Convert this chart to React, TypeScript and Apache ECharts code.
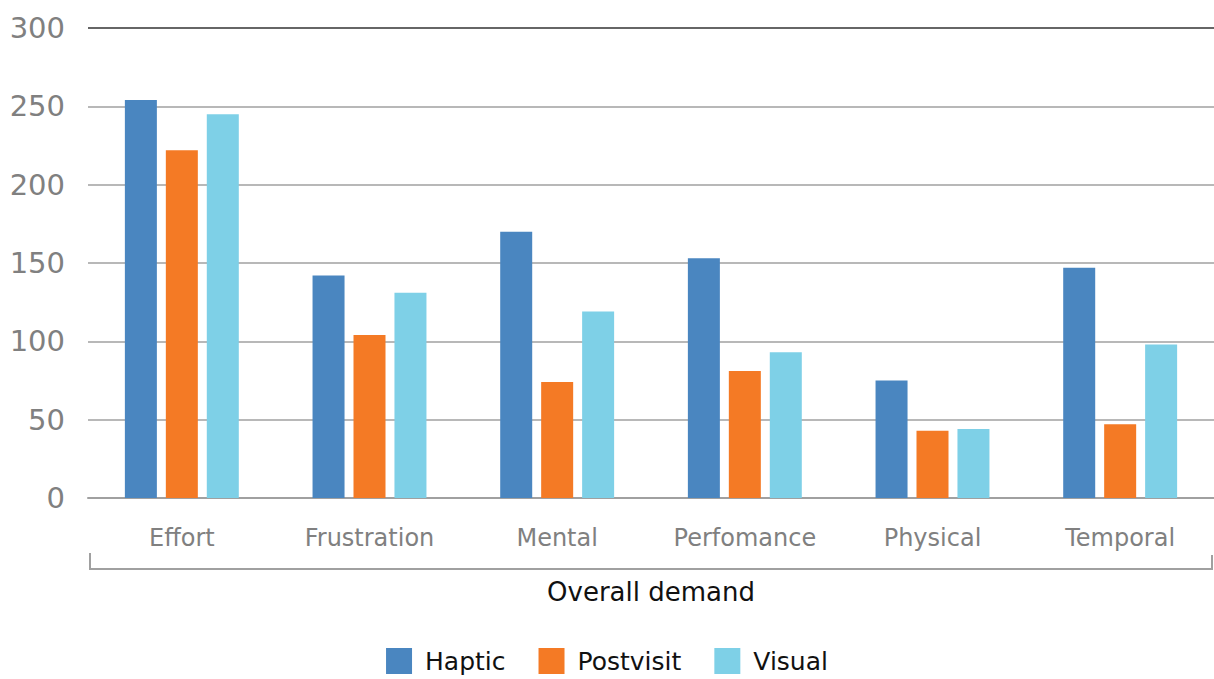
import React, { useEffect, useRef } from "react";
import * as echarts from "echarts";

const categories = ["Effort", "Frustration", "Mental", "Perfomance", "Physical", "Temporal"];
const haptic = [254, 142, 170, 153, 75, 147];
const postvisit = [222, 104, 74, 81, 43, 47];
const visual = [245, 131, 119, 93, 44, 98];
const seriesNames = ["Haptic", "Postvisit", "Visual"];
const colors = ["#4a86c0", "#f47a25", "#7ed0e7"];
const yTicks = { min: 0, max: 300, interval: 50 };
const xTitle = "Overall demand";

const FONT = "'DejaVu Sans', 'Noto Sans', sans-serif";

export default function App() {
  const ref = useRef<HTMLDivElement>(null);
  useEffect(() => {
    if (!ref.current) return;
    const chart = echarts.init(ref.current, undefined, { renderer: "svg" });
    const data = [haptic, postvisit, visual];
    chart.setOption({
      animation: false,
      textStyle: { fontFamily: FONT },
      grid: { left: 88, right: -5, top: 28, bottom: 181 },
      legend: {
        bottom: 0,
        left: "center",
        itemWidth: 26,
        itemHeight: 26,
        itemGap: 33,
        icon: "rect",
        textStyle: { fontSize: 25, color: "#111", fontFamily: FONT, padding: [0, 0, 0, 8] },
        data: seriesNames,
      },
      xAxis: {
        type: "category",
        data: categories,
        axisLine: { lineStyle: { color: "#a0a0a0", width: 2 } },
        axisTick: { show: false },
        axisLabel: { fontSize: 24, color: "#808080", margin: 28, fontFamily: FONT },
      },
      yAxis: {
        type: "value",
        min: yTicks.min,
        max: yTicks.max,
        interval: yTicks.interval,
        axisLine: { show: false },
        axisTick: { show: false },
        axisLabel: { fontSize: 29, color: "#808080", margin: 23, fontFamily: FONT },
        splitLine: {
          lineStyle: {
            color: ["#a0a0a0", "#a0a0a0", "#a0a0a0", "#a0a0a0", "#a0a0a0", "#a0a0a0", "#333"],
            width: 1.5,
          },
        },
      },
      series: seriesNames.map((n, i) => ({
        name: n,
        type: "bar",
        data: data[i],
        barWidth: 32,
        barGap: "28%",
        itemStyle: { color: colors[i] },
      })),
      graphic: [
        {
          type: "polyline",
          shape: { points: [[90, 553], [90, 569], [1212, 569], [1212, 555]] },
          style: { stroke: "#a0a0a0", lineWidth: 2, fill: "none" },
        },
        {
          type: "text",
          x: 651,
          y: 592,
          style: {
            text: xTitle,
            fontSize: 26,
            fill: "#111",
            fontFamily: FONT,
            align: "center",
            verticalAlign: "middle",
          },
        },
      ],
    });
    return () => chart.dispose();
  }, []);
  return <div ref={ref} style={{ position: "absolute", left: 0, top: 0, width: 1214, height: 679 }} />;
}
